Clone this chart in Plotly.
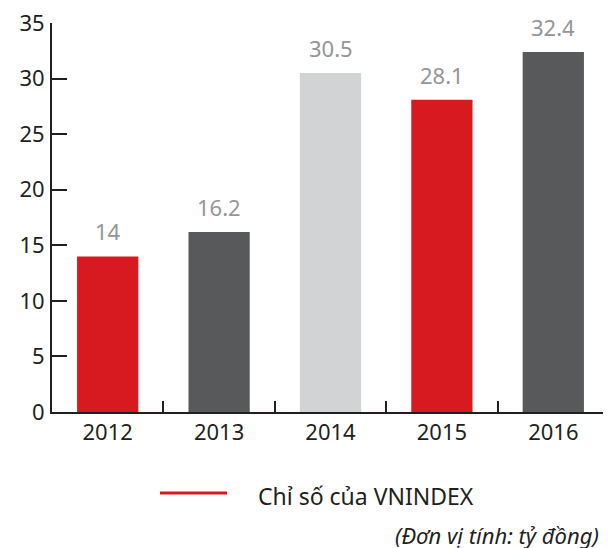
import plotly.graph_objects as go

years = ["2012", "2013", "2014", "2015", "2016"]
values = [14, 16.2, 30.5, 28.1, 32.4]
value_labels = ["14", "16.2", "30.5", "28.1", "32.4"]
bar_colors = ["#d71920", "#58595b", "#d1d3d4", "#d71920", "#58595b"]
y_ticks = [0, 5, 10, 15, 20, 25, 30, 35]
legend_label = "Chỉ số của VNINDEX"
unit_note = "(Đơn vị tính: tỷ đồng)"

FONT = "Noto Sans"
DARK = "#231f20"

# page has an 8px body margin; figure placed so plot area matches reference pixels
PL, PR, PT, PB = 52 - 8, 609 - 8, 23 - 8, 412 - 8
W, H = 603, 540
PW, PH = PR - PL, PB - PT

fig = go.Figure()
fig.add_trace(go.Bar(x=years, y=values, marker=dict(color=bar_colors, line=dict(width=0)),
                     showlegend=False, hoverinfo="skip"))

# value labels above bars (category index positions on the category axis)
for i, (v, t) in enumerate(zip(values, value_labels)):
    fig.add_annotation(x=i, y=v, text=t, showarrow=False, yanchor="bottom", yshift=8,
                       font=dict(family=FONT, size=22, color="#939598"))

def px(xp):
    return (xp - 8 - PL) / PW

def py(yp):
    return (PB - (yp - 8)) / PH

# legend line + text
fig.add_shape(type="line", xref="paper", yref="paper",
              x0=px(160), x1=px(227), y0=py(493), y1=py(493),
              line=dict(color="#d71920", width=3))
fig.add_annotation(xref="paper", yref="paper", x=px(256), y=py(496),
                   xanchor="left", yanchor="middle", showarrow=False, text=legend_label,
                   font=dict(family=FONT, size=23, color=DARK))
fig.add_annotation(xref="paper", yref="paper", x=px(601), y=py(535),
                   xanchor="right", yanchor="middle", showarrow=False,
                   text="<i>" + unit_note + "</i>",
                   font=dict(family=FONT, size=22, color=DARK))

fig.update_layout(
    width=W, height=H,
    margin=dict(l=PL, r=W - PR, t=PT, b=H - PB, autoexpand=False),
    paper_bgcolor="white", plot_bgcolor="white",
    bargap=0.45,
    showlegend=False,
    xaxis=dict(type="category", range=[-0.5, len(years) - 0.5], showline=True, linecolor=DARK, linewidth=2,
               ticks="inside", tickson="boundaries", ticklen=11, tickwidth=2, tickcolor=DARK,
               tickangle=0, automargin=False,
               tickfont=dict(family=FONT, size=22, color=DARK), showgrid=False, zeroline=False),
    yaxis=dict(range=[0, 35], tickvals=y_ticks, showline=True, linecolor=DARK, linewidth=2,
               ticks="inside", ticklen=15, tickwidth=2, tickcolor=DARK, ticklabelstandoff=1,
               ticklabeloverflow="allow", automargin=False,
               tickfont=dict(family=FONT, size=22, color=DARK), showgrid=False, zeroline=False),
)

fig.write_html("out.html")
